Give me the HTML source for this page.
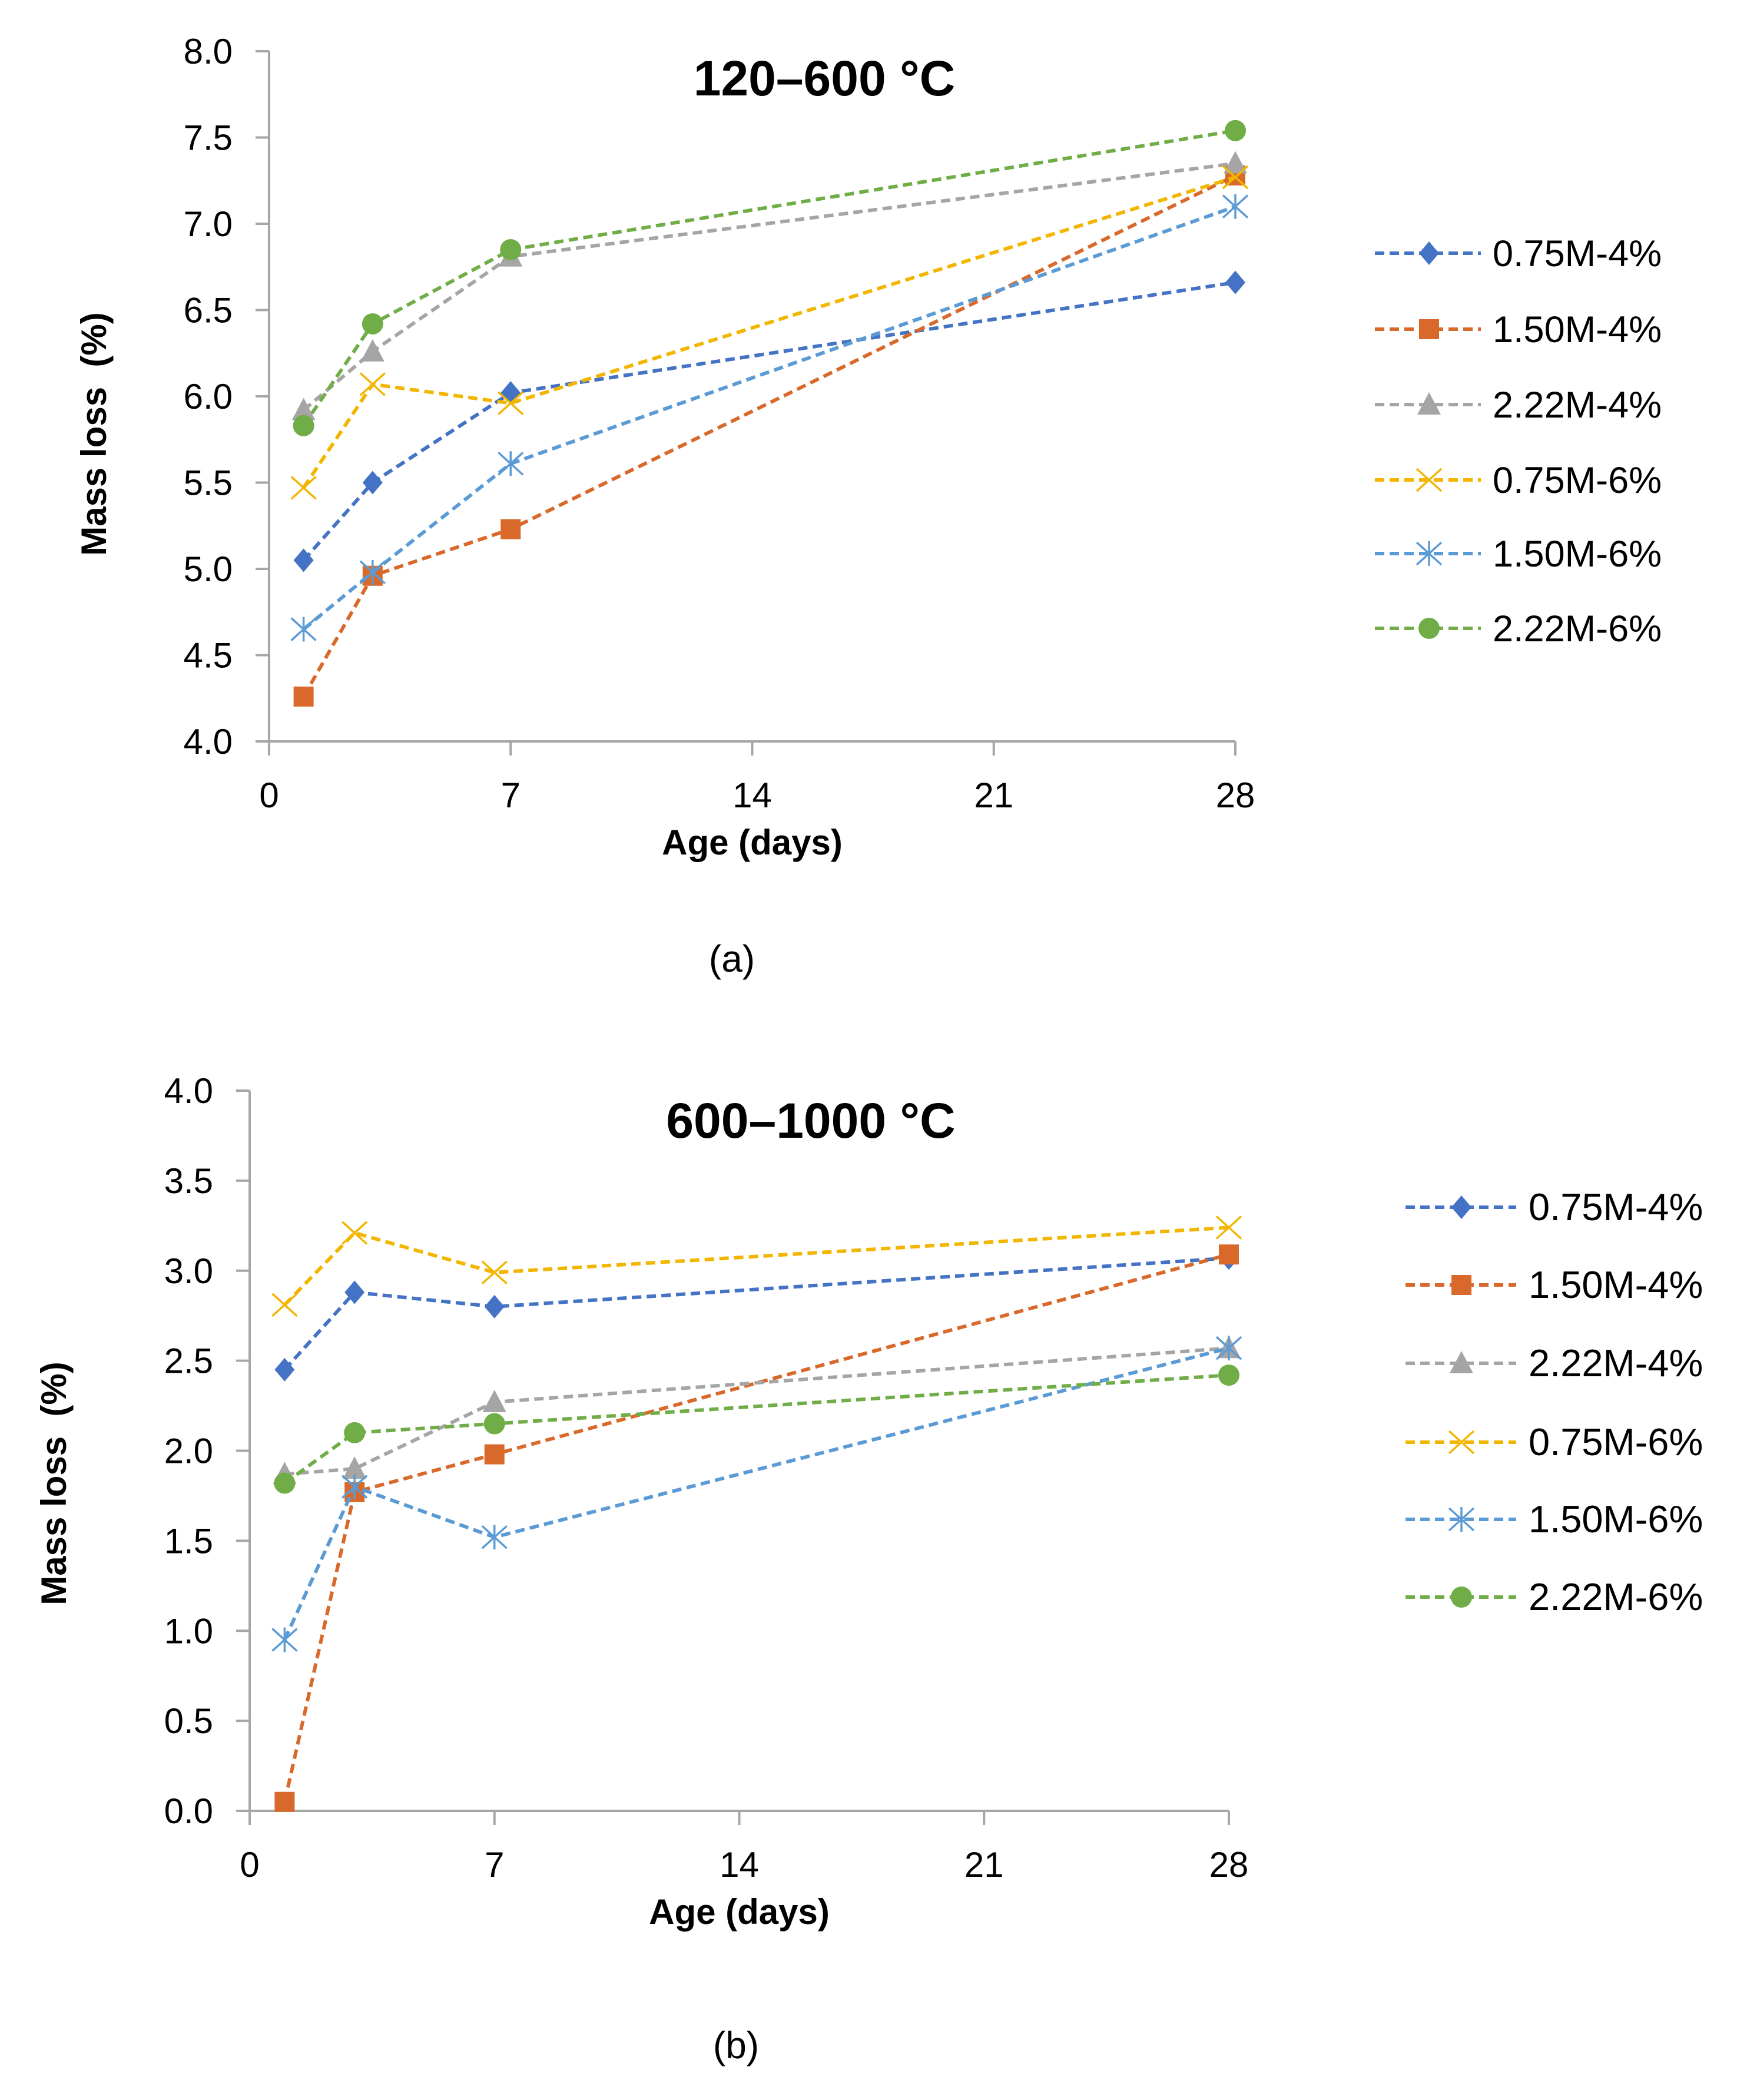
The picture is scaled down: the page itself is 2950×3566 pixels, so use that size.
<!DOCTYPE html>
<html><head><meta charset="utf-8">
<style>
html,body{margin:0;padding:0;background:#fff;}
svg{display:block;}
text{font-family:"Liberation Sans",sans-serif;fill:#000;}
</style></head>
<body>
<svg id="fig" width="2950" height="3566" viewBox="0 0 2950 3566" xmlns="http://www.w3.org/2000/svg"></svg>
<script>
const days = [1, 3, 7, 28];
const seriesNames = ["0.75M-4%", "1.50M-4%", "2.22M-4%", "0.75M-6%", "1.50M-6%", "2.22M-6%"];
const seriesColors = ["#4472C4", "#D9692B", "#A5A5A5", "#F2B600", "#5B9BD5", "#70AD47"];
const seriesMarkers = ["diamond", "square", "triangle", "x", "star", "circle"];
const xTicks = [0, 7, 14, 21, 28];
const yTicksA = ["4.0","4.5","5.0","5.5","6.0","6.5","7.0","7.5","8.0"];
const yTicksB = ["0.0","0.5","1.0","1.5","2.0","2.5","3.0","3.5","4.0"];
// panel (a) 120–600 °C
const a_075_4 = [5.05, 5.50, 6.02, 6.66];
const a_150_4 = [4.26, 4.96, 5.23, 7.28];
const a_222_4 = [5.92, 6.26, 6.81, 7.35];
const a_075_6 = [5.47, 6.07, 5.96, 7.27];
const a_150_6 = [4.65, 4.98, 5.61, 7.10];
const a_222_6 = [5.83, 6.42, 6.85, 7.54];
// panel (b) 600–1000 °C
const b_075_4 = [2.45, 2.88, 2.80, 3.07];
const b_150_4 = [0.05, 1.77, 1.98, 3.09];
const b_222_4 = [1.87, 1.90, 2.27, 2.57];
const b_075_6 = [2.81, 3.21, 2.99, 3.24];
const b_150_6 = [0.95, 1.80, 1.52, 2.57];
const b_222_6 = [1.82, 2.10, 2.15, 2.42];

const NS = "http://www.w3.org/2000/svg";
const svg = document.getElementById("fig");
function mk(tag, attrs, parent) {
  const e = document.createElementNS(NS, tag);
  for (const k in attrs) e.setAttribute(k, attrs[k]);
  (parent || svg).appendChild(e);
  return e;
}

function marker(g, type, cx, cy, color) {
  let e;
  const s = 17;
  if (type === "diamond") e = mk("polygon", {points:`${cx},${cy-s-3} ${cx+s},${cy} ${cx},${cy+s+3} ${cx-s},${cy}`, fill:color}, g);
  else if (type === "square") e = mk("rect", {x:cx-s, y:cy-s, width:2*s, height:2*s, fill:color}, g);
  else if (type === "triangle") e = mk("polygon", {points:`${cx},${cy-s-4} ${cx+s+3},${cy+s} ${cx-s-3},${cy+s}`, fill:color}, g);
  else if (type === "circle") e = mk("circle", {cx:cx, cy:cy, r:s+1, fill:color}, g);
  else if (type === "x") e = mk("path", {d:`M${cx-21},${cy-19}L${cx+21},${cy+19}M${cx-21},${cy+19}L${cx+21},${cy-19}`, stroke:color, "stroke-width":3.5, fill:"none"}, g);
  else if (type === "star") e = mk("path", {d:`M${cx-21},${cy-19}L${cx+21},${cy+19}M${cx-21},${cy+19}L${cx+21},${cy-19}M${cx},${cy-21}L${cx},${cy+21}`, stroke:color, "stroke-width":3.5, fill:"none"}, g);
  
  
  return e;
}

function panel(cfg) {
  const g = mk("g", {});
  
  
  const xS = d => cfg.x0 + (d - 0) / 28 * (cfg.x1 - cfg.x0);
  const yS = v => cfg.yb + (v - cfg.ymin) / (cfg.ymax - cfg.ymin) * (cfg.yt - cfg.yb);
  const ax = mk("path", {d:`M${cfg.x0},${cfg.yt}V${cfg.yb}H${cfg.x1}`, stroke:"#A6A6A6", "stroke-width":4, fill:"none"}, g);
  
  
  cfg.yTicks.forEach(t => {
    const y = yS(parseFloat(t));
    const tk = mk("line", {x1:cfg.x0-23, x2:cfg.x0, y1:y, y2:y, stroke:"#A6A6A6", "stroke-width":4}, g);
    
    
    const tl = mk("text", {x:cfg.x0-62, y:y+21, "text-anchor":"end", "font-size":60}, g);
    tl.textContent = t;
    
    
  });
  xTicks.forEach(t => {
    const x = xS(t);
    const tk = mk("line", {x1:x, x2:x, y1:cfg.yb, y2:cfg.yb+24, stroke:"#A6A6A6", "stroke-width":4}, g);
    
    
    const tl = mk("text", {x:x, y:cfg.yb+112, "text-anchor":"middle", "font-size":60}, g);
    tl.textContent = String(t);
    
    
  });
  const ti = mk("text", {x:cfg.titleX, y:cfg.titleY, "text-anchor":"middle", "font-size":84, "font-weight":"bold"}, g);
  ti.textContent = cfg.title;
  
  
  const yt = mk("text", {x:0, y:0, transform:`translate(${cfg.yTitleX},${cfg.yTitleY}) rotate(-90)`, "text-anchor":"middle", "font-size":60, "font-weight":"bold"}, g);
  yt.textContent = "Mass loss\u00A0\u00A0(%)";
  
  
  const xt = mk("text", {x:(cfg.x0+cfg.x1)/2, y:cfg.yb+192, "text-anchor":"middle", "font-size":60, "font-weight":"bold"}, g);
  xt.textContent = "Age (days)";
  
  
  const cap = mk("text", {x:cfg.capX, y:cfg.capY, "text-anchor":"middle", "font-size":64}, g);
  cap.textContent = cfg.caption;
  
  
  cfg.data.forEach((vals, i) => {
    const sg = mk("g", {}, g);
    
    
    const pts = vals.map((v, j) => `${xS(days[j]).toFixed(1)},${yS(v).toFixed(1)}`).join(" ");
    const pl = mk("polyline", {points:pts, fill:"none", stroke:seriesColors[i], "stroke-width":6, "stroke-dasharray":"16 9"}, sg);
    
    
    vals.forEach((v, j) => marker(sg, seriesMarkers[i], xS(days[j]), yS(v), seriesColors[i]));
  });
  const lg = mk("g", {}, g);
  
  
  seriesNames.forEach((n, i) => {
    const y = cfg.legY[i];
    const eg = mk("g", {}, lg);
    
    
    mk("line", {x1:cfg.legX0, x2:cfg.legX1, y1:y, y2:y, stroke:seriesColors[i], "stroke-width":6, "stroke-dasharray":"16 9"}, eg);
    marker(eg, seriesMarkers[i], cfg.legM, y, seriesColors[i]);
    const t = mk("text", {x:cfg.legT, y:y+22, "font-size":cfg.legFont}, eg);
    t.textContent = n;
  });
}

panel({
  name:"chart-a", x0:457, x1:2098, yt:87, yb:1259, ymin:4, ymax:8, yTicks:yTicksA,
  title:"120–600 °C", titleX:1400, titleY:162, yTitleX:180, yTitleY:737, caption:"(a)", capX:1243, capY:1650,
  data:[a_075_4, a_150_4, a_222_4, a_075_6, a_150_6, a_222_6],
  legY:[430, 559, 687, 815, 940, 1067], legX0:2335, legX1:2515, legM:2427, legT:2535, legFont:63
});
panel({
  name:"chart-b", x0:424, x1:2087, yt:1852, yb:3075, ymin:0, ymax:4, yTicks:yTicksB,
  title:"600–1000 °C", titleX:1377, titleY:1932, yTitleX:112, yTitleY:2519, caption:"(b)", capX:1250, capY:3495,
  data:[b_075_4, b_150_4, b_222_4, b_075_6, b_150_6, b_222_6],
  legY:[2050, 2182, 2315, 2449, 2580, 2712], legX0:2387, legX1:2575, legM:2482, legT:2596, legFont:65
});
</script>
</body></html>
